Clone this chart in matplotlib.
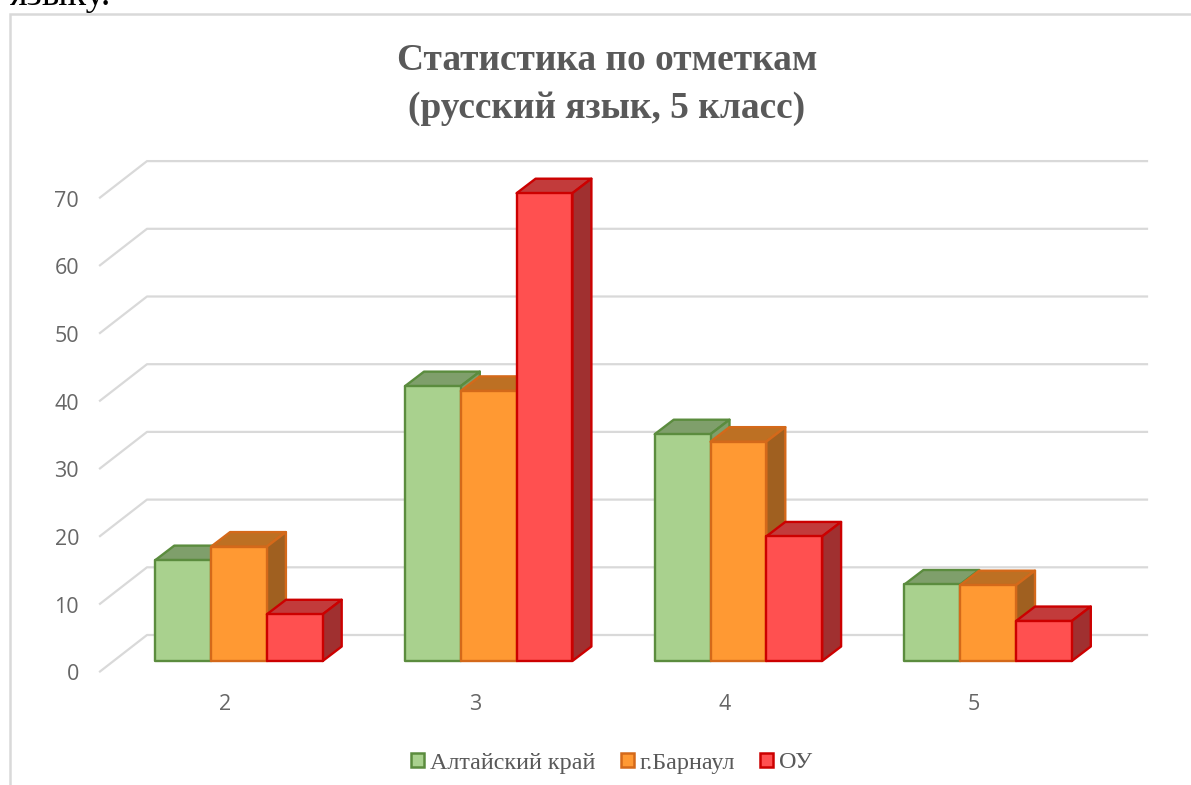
import matplotlib
matplotlib.use('Agg')
import matplotlib.pyplot as plt
from matplotlib.patches import Polygon, Rectangle

categories = ["2", "3", "4", "5"]
series_names = ["Алтайский край", "г.Барнаул", "ОУ"]
kray = [14.9, 40.6, 33.5, 11.3]
barnaul = [16.9, 39.9, 32.4, 11.2]
ou = [6.9, 69.1, 18.4, 5.9]
y_ticks = [0, 10, 20, 30, 40, 50, 60, 70]

W, H = 1191, 785
PX_X = 249.7   # пикселей на категорию
PX_Y = 6.77    # пикселей на единицу
X0, Y0 = 239, 661  # центр первой группы и линия нуля

# цвета: лицо, край, верх, бок
styles = [
    ("#A9D18E", "#5B8C3E", "#7F9F6B", "#7F9F6B"),
    ("#FF9933", "#D4691A", "#BD7023", "#A06020"),
    ("#FF5050", "#CC0000", "#C23B3B", "#A03030"),
]

fig = plt.figure(figsize=(W / 100, H / 100), dpi=100)
ax = fig.add_axes([0, 0, 1, 1])
ax.set_xlim(-X0 / PX_X, (W - X0) / PX_X)
ax.set_ylim(-(H - Y0) / PX_Y, Y0 / PX_Y)
ax.axis('off')


def dx(px):
    return px / PX_X


def dy(px):
    return px / PX_Y


# рамка диаграммы и обрезанный текст над ней
ax.plot([dx(10 - X0)] * 2 + [dx(W - X0)],
        [dy(Y0 - H), dy(Y0 - 14), dy(Y0 - 14)],
        color="#D9D9D9", lw=1.8, zorder=1, solid_joinstyle='miter')
ax.text(dx(10 - X0), dy(Y0 - 5), "языку.", family="Liberation Serif", fontsize=27.5,
        color="black", ha='left', va='baseline')

# сетка: короткая диагональ и задняя линия
for v in y_ticks:
    ax.plot([dx(100 - X0), dx(147 - X0), dx(1147 - X0)],
            [v - dy(10.5), v + dy(26), v + dy(26)],
            color="#D9D9D9", lw=1.6, zorder=1, solid_joinstyle='round')
    ax.text(dx(79 - X0), v - dy(14), str(v), family="Open Sans", fontsize=15.5,
            color="#666666", ha='right', va='center')

# столбцы с псевдообъёмом
bar_w = 55.8 / PX_X
depth_x, depth_y = dx(19), dy(14.5)
z = 2
for i, cat in enumerate(categories):
    for j, vals in enumerate([kray, barnaul, ou]):
        face, edge, top, side = styles[j]
        left = i + (j - 1.5) * bar_w
        right = left + bar_w
        v = vals[i]
        common = dict(edgecolor=edge, lw=1.7, joinstyle='round', zorder=z)
        ax.add_patch(Polygon([(left, v), (right, v), (right + depth_x, v + depth_y),
                              (left + depth_x, v + depth_y)], facecolor=top, **common))
        ax.add_patch(Polygon([(right, 0), (right + depth_x, depth_y), (right + depth_x, v + depth_y),
                              (right, v)], facecolor=side, **common))
        ax.add_patch(Rectangle((left, 0), bar_w, v, facecolor=face, **common))
        z += 1
    ax.text(i - dx(14), -dy(43), cat, family="Open Sans", fontsize=15.5,
            color="#666666", ha='center', va='center')

# заголовок
ax.text(dx(607 - X0), dy(Y0 - 61), "Статистика по отметкам", family="Liberation Serif",
        fontsize=26.9, fontweight='bold', color="#595959", ha='center', va='center')
ax.text(dx(607 - X0), dy(Y0 - 108), "(русский язык, 5 класс)", family="Liberation Serif",
        fontsize=26.9, fontweight='bold', color="#595959", ha='center', va='center')

# легенда
handles = [Rectangle((0, 0), 1, 1, facecolor=s[0], edgecolor=s[1], lw=1.8) for s in styles]
ax.legend(handles, series_names, ncol=3, loc='center', bbox_to_anchor=(611.5 / W, 1 - 763 / H),
          frameon=False, handlelength=0.55, handleheight=0.55, handletextpad=0.22,
          columnspacing=1.05, labelcolor="#595959",
          prop={'family': 'Liberation Serif', 'size': 17.4})

fig.savefig("out.png", dpi=100)
